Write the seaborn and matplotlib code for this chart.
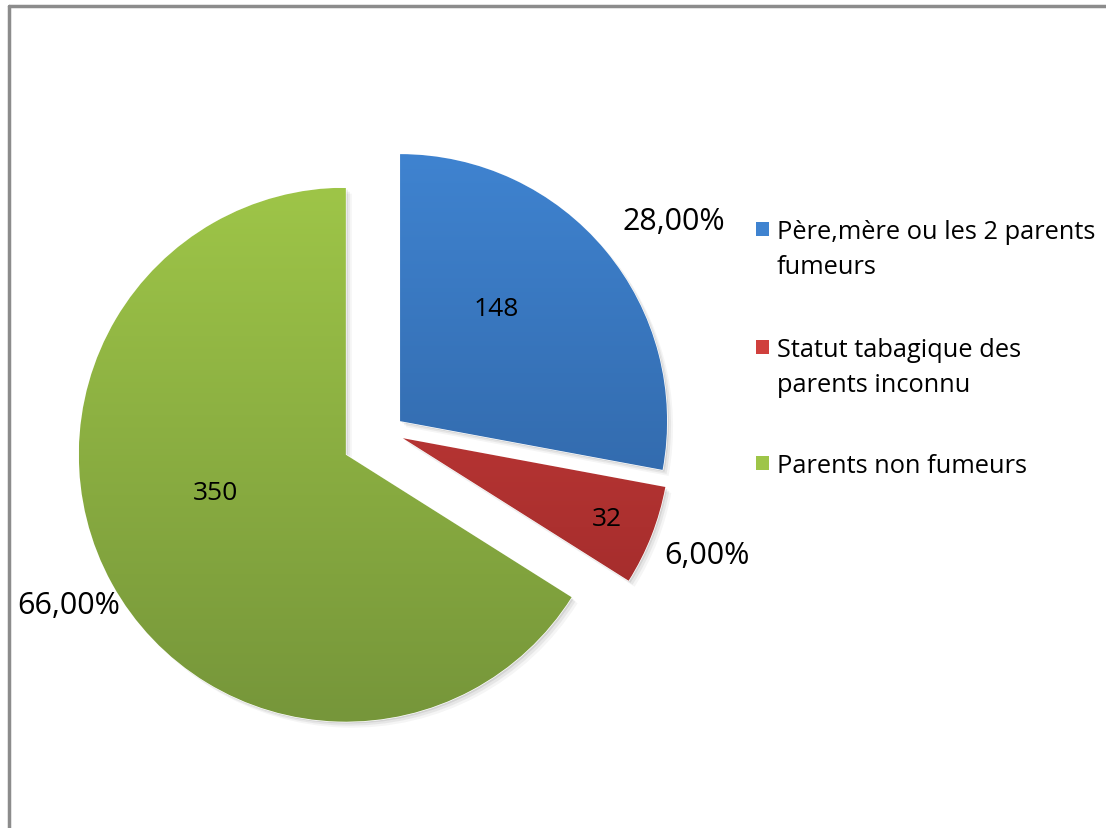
import numpy as np
import matplotlib
matplotlib.use("Agg")
import matplotlib.pyplot as plt
import seaborn as sns
from matplotlib.colors import LinearSegmentedColormap
from matplotlib.patches import Rectangle

sns.set_theme(style="white")
plt.rcParams['font.family'] = ['Open Sans', 'DejaVu Sans']

# ---- data ----
categories = ["Père,mère ou les 2 parents\nfumeurs",
              "Statut tabagique des\nparents inconnu",
              "Parents non fumeurs"]
counts = [148, 32, 350]
pct_labels = ["28,00%", "6,00%", "66,00%"]

# ---- style ----
top_colors = ["#3f83d0", "#d0403d", "#9ec548"]
bot_colors = ["#2b5c98", "#9a2828", "#76963a"]
explode_px = [17, 17, 47]
num_pos = [(49.6, 0.555), (-21.5, 0.82), (196, 0.51)]     # (angle deg, r fraction)
pct_pos = [(36.2, 1.27), (-21, 1.22), (208.5, 1.18)]

W, H = 1106, 829
fig = plt.figure(figsize=(W / 100, H / 100), dpi=100)
ax = fig.add_axes([0, 0, 1, 1])

R = 267
center = (387, H - 433)

# soft shadow
for k, (off, al) in enumerate([(6, 0.04), (4, 0.06), (2, 0.08)]):
    sh, _ = ax.pie(counts, explode=explode_px, startangle=90, counterclock=False,
                   radius=R, center=(center[0] + off, center[1] - off),
                   colors=["#000000"] * 3, frame=True)
    for w in sh:
        w.set_alpha(al)
        w.set_zorder(1)

wedges, _ = ax.pie(counts, explode=explode_px, startangle=90, counterclock=False,
                   radius=R, center=center, colors=top_colors, frame=True)
ax.set_aspect("equal")
ax.axis("off")

for i, w in enumerate(wedges):
    w.set_zorder(2)
    cmap = LinearSegmentedColormap.from_list("g%d" % i, [bot_colors[i], top_colors[i]])
    cx, cy = w.center
    grad = np.linspace(0, 1, 256).reshape(-1, 1)
    im = ax.imshow(grad, cmap=cmap, origin="lower", aspect="auto",
                   extent=[cx - R, cx + R, cy - R, cy + R], zorder=3)
    im.set_clip_path(w)
    a, r = num_pos[i]
    ax.text(cx + r * R * np.cos(np.radians(a)), cy + r * R * np.sin(np.radians(a)),
            str(counts[i]), ha="center", va="center", fontsize=19, color="black", zorder=5)
    a, r = pct_pos[i]
    ax.text(cx + r * R * np.cos(np.radians(a)), cy + r * R * np.sin(np.radians(a)),
            pct_labels[i], ha="center", va="center", fontsize=22, color="black", zorder=5)

ax.set_xlim(0, W)
ax.set_ylim(0, H)
ax.set_aspect("equal")

# legend (manual, squares aligned with first line)
leg_y = [230, 348, 464]
for i, lab in enumerate(categories):
    y = H - leg_y[i]
    ax.add_patch(Rectangle((756, y - 7), 13, 14, facecolor=top_colors[i],
                           edgecolor="none", zorder=5))
    ax.text(777, y + 10, lab, ha="left", va="top", fontsize=18.3,
            linespacing=1.5, color="black", zorder=5)

# frame border
fig.add_artist(plt.Line2D([9 / W, 9 / W], [0, 1 - 7 / H], color="#8c8c8c", lw=2.5,
                          transform=fig.transFigure))
fig.add_artist(plt.Line2D([9 / W, 1], [1 - 7 / H, 1 - 7 / H], color="#8c8c8c", lw=2.5,
                          transform=fig.transFigure))

fig.savefig("out.png", dpi=100, facecolor="white")
